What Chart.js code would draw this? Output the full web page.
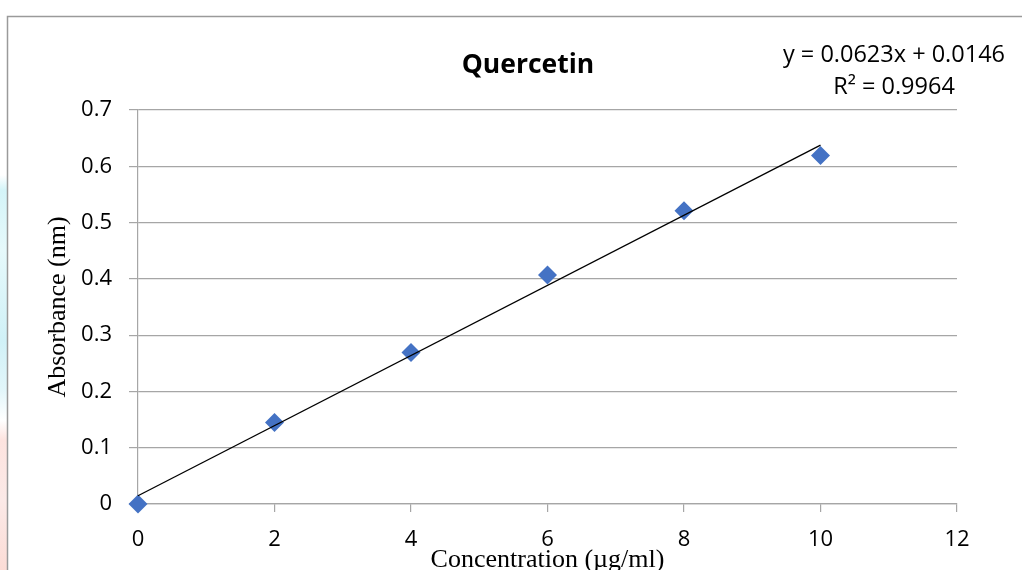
<!DOCTYPE html>
<html>
<head>
<meta charset="utf-8">
<script src="https://cdn.jsdelivr.net/npm/chart.js@4"></script>
<style>
  html, body { margin: 0; padding: 0; background: #fff; }
  #wrap { position: relative; width: 1022px; height: 570px; overflow: hidden; }
  #strip {
    position: absolute; left: 0; top: 0; width: 7px; height: 570px;
    background: linear-gradient(to bottom, #fff 0px, #fff 175px, #d4f4f8 190px, #e6f9fb 250px,
      #d0f1f7 340px, #e2f6fa 390px, #fff 420px, #fde3df 440px, #fbe9e7 500px, #fcdcd6 570px);
  }
  canvas { position: absolute; left: 0; top: 0; }
</style>
</head>
<body>
<div id="wrap">
  <div id="strip"></div>
  <canvas id="quercetin" width="1022" height="570"></canvas>
</div>
<script>
// concentration (µg/ml) and absorbance
const concentration = [0, 2, 4, 6, 8, 10];
const absorbance = [0, 0.145, 0.269, 0.407, 0.521, 0.619];
// linear trendline endpoints, y = 0.0623x + 0.0146
const trendX = [0, 10];
const trendY = [0.0146, 0.6376];
const xTicks = [0, 2, 4, 6, 8, 10, 12];
const yTicks = [0, 0.1, 0.2, 0.3, 0.4, 0.5, 0.6, 0.7];
const yTickLabels = ["0", "0.1", "0.2", "0.3", "0.4", "0.5", "0.6", "0.7"];
const equationLines = ["y = 0.0623x + 0.0146", "R\u00b2 = 0.9964"];

const sans = "'Open Sans', 'Noto Sans', sans-serif";
const serif = "'Liberation Serif', 'Times New Roman', serif";
const tickFont = { family: sans, size: 22 };

const decor = {
  id: "decor",
  beforeDraw(chart) {
    const ctx = chart.ctx;
    ctx.save();
    ctx.strokeStyle = "#9a9a9a";
    ctx.lineWidth = 1.5;
    ctx.beginPath();
    ctx.moveTo(7.5, 570);
    ctx.lineTo(7.5, 16.5);
    ctx.lineTo(1022, 16.5);
    ctx.stroke();
    ctx.restore();
  },
  afterDraw(chart) {
    const ctx = chart.ctx;
    ctx.save();
    ctx.fillStyle = "#000";
    ctx.textAlign = "center";
    ctx.textBaseline = "middle";
    ctx.font = "bold 26.5px " + sans;
    ctx.fillText("Quercetin", 528, 65);
    ctx.font = "23.5px " + sans;
    ctx.fillText(equationLines[0], 894, 55);
    ctx.fillText(equationLines[1], 894, 87);
    ctx.restore();
  }
};

new Chart(document.getElementById("quercetin"), {
  type: "scatter",
  data: {
    datasets: [
      {
        label: "Quercetin",
        data: concentration.map((x, i) => ({ x: x, y: absorbance[i] })),
        pointStyle: "rectRot",
        pointRadius: 9.5,
        pointHoverRadius: 9.5,
        backgroundColor: "#4472C4",
        borderColor: "#4472C4",
        borderWidth: 0,
        clip: false,
        order: 2
      },
      {
        label: "Linear",
        data: trendX.map((x, i) => ({ x: x, y: trendY[i] })),
        showLine: true,
        pointRadius: 0,
        borderColor: "#000",
        borderWidth: 1.3,
        clip: false,
        order: 1
      }
    ]
  },
  options: {
    responsive: false,
    animation: false,
    devicePixelRatio: 1,
    layout: { padding: { top: 110, right: 65, left: 0, bottom: 0 } },
    plugins: {
      legend: { display: false },
      tooltip: { enabled: false }
    },
    scales: {
      x: {
        type: "linear",
        min: 0,
        max: 12,
        afterBuildTicks: (s) => { s.ticks = xTicks.map((v) => ({ value: v })); },
        afterFit: (s) => { s.height = 66; },
        ticks: { color: "#000", font: tickFont, padding: 15, maxRotation: 0 },
        grid: { drawOnChartArea: false, drawTicks: true, tickLength: 8, color: "#a6a6a6", lineWidth: 1.2 },
        border: { display: true, color: "#a6a6a6", width: 1.2 },
        title: {
          display: true,
          text: "Concentration (\u00b5g/ml)",
          color: "#000",
          font: { family: serif, size: 26, lineHeight: 1 },
          padding: { top: 0, bottom: -3 }
        }
      },
      y: {
        type: "linear",
        min: 0,
        max: 0.7,
        afterBuildTicks: (s) => { s.ticks = yTicks.map((v) => ({ value: v })); },
        afterFit: (s) => { s.width = 138; },
        ticks: {
          color: "#000",
          font: tickFont,
          padding: 17,
          callback: (v) => yTickLabels[yTicks.findIndex((t) => Math.abs(t - v) < 1e-9)]
        },
        grid: { drawOnChartArea: true, drawTicks: true, tickLength: 9, color: "#a6a6a6", lineWidth: 1.2 },
        border: { display: true, color: "#a6a6a6", width: 1.2 },
        title: {
          display: true,
          text: "Absorbance (nm)",
          color: "#000",
          font: { family: serif, size: 26, lineHeight: 1.2 },
          padding: { top: 43, bottom: 0 }
        }
      }
    }
  },
  plugins: [decor]
});
</script>
</body>
</html>
